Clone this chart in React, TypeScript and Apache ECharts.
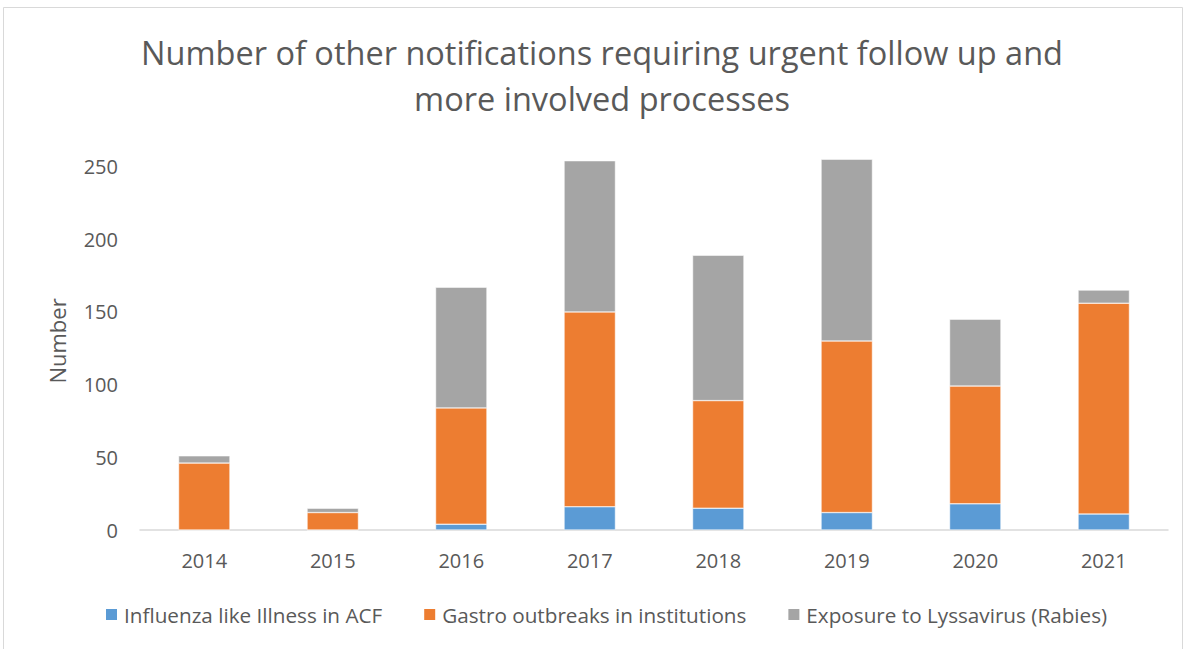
import React, { useEffect, useRef } from "react";
import * as echarts from "echarts";

const categories = ["2014", "2015", "2016", "2017", "2018", "2019", "2020", "2021"];
const influenza = [0, 0, 4, 16, 15, 12, 18, 11];
const gastro = [46, 12, 80, 134, 74, 118, 81, 145];
const rabies = [5, 3, 83, 104, 100, 125, 46, 9];
const yTicks = { min: 0, max: 260, interval: 50 };

const TEXT = "#595959";
const FONT = "'Open Sans', 'Noto Sans', sans-serif";

export default function App() {
  const ref = useRef<HTMLDivElement>(null);
  useEffect(() => {
    document.body.style.margin = "0";
    const chart = echarts.init(ref.current!, null, { renderer: "svg" });
    chart.setOption({
      animation: false,
      backgroundColor: "#ffffff",
      textStyle: { fontFamily: FONT, color: TEXT },
      title: {
        text: "Number of other notifications requiring urgent follow up and\nmore involved processes",
        left: 597,
        textAlign: "center",
        top: 24,
        textStyle: { fontFamily: FONT, fontSize: 32.5, fontWeight: "normal", color: TEXT, lineHeight: 46 },
      },
      graphic: [
        {
          type: "rect",
          shape: { x: 3.5, y: 7.5, width: 1179, height: 660 },
          style: { fill: "none", stroke: "#d9d9d9", lineWidth: 1 },
          silent: true,
        },
      ],
      legend: {
        top: 604,
        left: 104,
        padding: 0,
        itemWidth: 13,
        itemHeight: 13,
        itemGap: 40,
        icon: "rect",
        textStyle: { fontFamily: FONT, fontSize: 20.7, color: TEXT, padding: [0, 0, 0, 1] },
        data: [
          "Influenza like Illness in ACF",
          "Gastro outbreaks in institutions",
          "Exposure to Lyssavirus (Rabies)",
        ],
      },
      grid: { left: 140, right: 21, top: 152, bottom: 119, containLabel: false },
      xAxis: {
        type: "category",
        data: categories,
        axisLine: { lineStyle: { color: "#d9d9d9", width: 1.5 } },
        axisTick: { show: false },
        axisLabel: { fontFamily: FONT, fontSize: 20, color: TEXT, margin: 20 },
      },
      yAxis: {
        type: "value",
        min: yTicks.min,
        max: yTicks.max,
        interval: yTicks.interval,
        name: "Number",
        nameLocation: "middle",
        nameGap: 72,
        nameRotate: 90,
        nameTextStyle: { fontFamily: FONT, fontSize: 22, color: TEXT },
        axisLine: { show: false },
        axisTick: { show: false },
        splitLine: { show: false },
        axisLabel: { fontFamily: FONT, fontSize: 20, color: TEXT, margin: 22, showMaxLabel: false },
      },
      series: [
        {
          name: "Influenza like Illness in ACF",
          type: "bar",
          stack: "total",
          data: influenza,
          barWidth: "40%",
          itemStyle: { color: "#5b9bd5", borderColor: "#ffffff", borderWidth: 0.5 },
        },
        {
          name: "Gastro outbreaks in institutions",
          type: "bar",
          stack: "total",
          data: gastro,
          itemStyle: { color: "#ed7d31", borderColor: "#ffffff", borderWidth: 0.5 },
        },
        {
          name: "Exposure to Lyssavirus (Rabies)",
          type: "bar",
          stack: "total",
          data: rabies,
          itemStyle: { color: "#a5a5a5", borderColor: "#ffffff", borderWidth: 0.5 },
        },
      ],
    });
    return () => chart.dispose();
  }, []);
  return (
    <div
      ref={ref}
      style={{ position: "absolute", left: 0, top: 0, width: 1189, height: 649 }}
    />
  );
}
